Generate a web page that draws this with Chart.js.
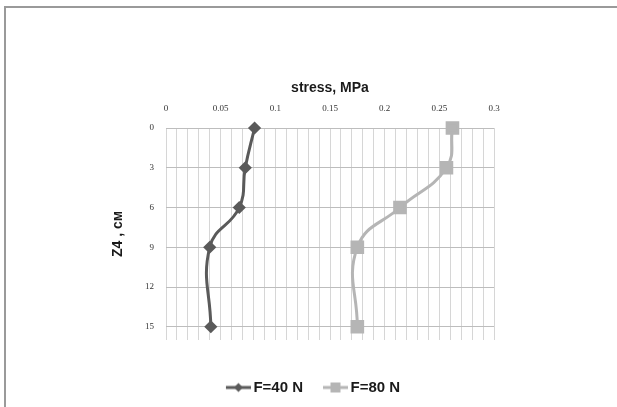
<!DOCTYPE html>
<html>
<head>
<meta charset="utf-8">
<script src="https://cdn.jsdelivr.net/npm/chart.js@4"></script>
<style>
  html, body { margin: 0; padding: 0; background: #fff; }
  #wrap { position: relative; width: 617px; height: 407px; overflow: hidden; }
  #frame { position: absolute; left: 4px; top: 6px; width: 700px; height: 500px;
           border-left: 2px solid #9a9a9a; border-top: 2px solid #9a9a9a; }
  canvas { position: absolute; left: 0; top: 0; }
</style>
</head>
<body>
<div id="wrap">
  <div id="frame"></div>
  <canvas id="stressChart" width="617" height="407"></canvas>
</div>
<script>
// глубина, см
const depth = [0, 3, 6, 9, 15];
// напряжения, МПа
const stressF40 = [0.081, 0.0725, 0.067, 0.040, 0.041];
const stressF80 = [0.262, 0.2565, 0.214, 0.175, 0.175];
const seriesNames = ["F=40 N", "F=80 N"];
const depthTicks = [0, 3, 6, 9, 12, 15];

const colF40 = "#5a5a5a";
const colF80 = "#b5b5b5";

function toPoints(xs){
  return xs.map((v, i) => ({x: v, y: depth[i]}));
}

// значок «линия + маркер» для легенды, линия прижата к тексту
function legendIcon(color, shape){
  const c = document.createElement("canvas");
  c.width = 36; c.height = 12;
  const g = c.getContext("2d");
  g.strokeStyle = color; g.lineWidth = 3;
  g.beginPath(); g.moveTo(11, 6); g.lineTo(36, 6); g.stroke();
  g.fillStyle = color;
  g.beginPath();
  if (shape === "diamond") {
    g.moveTo(23.5, 1.5); g.lineTo(28, 6); g.lineTo(23.5, 10.5); g.lineTo(19, 6);
  } else {
    g.rect(18.5, 1, 10, 10);
  }
  g.closePath(); g.fill();
  return c;
}
const icons = [legendIcon(colF40, "diamond"), legendIcon(colF80, "square")];

// фиксированная высота легенды и сдвиг её вниз/вправо
const legendPlace = {
  id: "legendPlace",
  afterInit(chart){
    const lg = chart.legend;
    const fit = lg.fit;
    lg.fit = function(){ fit.call(this); this.height = 67; };
  },
  afterLayout(chart){
    const lg = chart.legend;
    lg.top += 26; lg.bottom += 26;
    lg.left += 8; lg.right += 8;
  }
};

const ctx = document.getElementById("stressChart").getContext("2d");
new Chart(ctx, {
  type: "scatter",
  data: {
    datasets: [{
      label: seriesNames[0],
      data: toPoints(stressF40),
      showLine: true,
      clip: false,
      tension: 0.45,
      borderColor: colF40,
      backgroundColor: colF40,
      borderWidth: 3,
      pointStyle: "rectRot",
      pointRadius: 4.5,
      pointHoverRadius: 4.5
    }, {
      label: seriesNames[1],
      data: toPoints(stressF80),
      showLine: true,
      clip: false,
      tension: 0.45,
      borderColor: colF80,
      backgroundColor: colF80,
      borderWidth: 3,
      pointStyle: "rect",
      pointRadius: 7.5,
      pointHoverRadius: 7.5
    }]
  },
  plugins: [legendPlace],
  options: {
    responsive: false,
    animation: false,
    layout: { padding: { left: 110, right: 123, top: 80, bottom: 0 } },
    plugins: {
      tooltip: { enabled: false },
      legend: {
        position: "bottom",
        labels: {
          usePointStyle: true,
          pointStyleWidth: 26,
          padding: 14,
          color: "#1a1a1a",
          font: { family: "Liberation Sans", size: 15, weight: "bold" },
          generateLabels(chart){
            const items = Chart.defaults.plugins.legend.labels.generateLabels(chart);
            items.forEach((it, i) => { it.pointStyle = icons[i]; });
            return items;
          }
        }
      }
    },
    scales: {
      x: {
        type: "linear",
        position: "top",
        min: 0, max: 0.3,
        afterBuildTicks(s){
          const t = [];
          for (let i = 0; i <= 30; i++) t.push({value: i / 100});
          s.ticks = t;
        },
        afterFit(s){ s.height = 48; },
        grid: { color: "#d6d6d6", lineWidth: 1, drawTicks: false },
        border: { display: false },
        ticks: {
          autoSkip: false, maxRotation: 0, padding: 14,
          color: "#333",
          font: { family: "Liberation Serif", size: 9 },
          callback(v){
            const n = Math.round(v * 100);
            return n % 5 === 0 ? String(n / 100) : "";
          }
        },
        title: {
          display: true, text: "stress, MPa", color: "#1a1a1a",
          font: { family: "Liberation Sans", size: 14, weight: "bold" },
          padding: { top: 0, bottom: 4 }
        }
      },
      y: {
        type: "linear",
        reverse: true,
        min: 0, max: 16,
        afterBuildTicks(s){ s.ticks = depthTicks.map(v => ({value: v})); },
        afterFit(s){ s.width = 56; },
        grid: { color: "#bdbdbd", lineWidth: 1, drawTicks: false },
        border: { display: false },
        ticks: {
          padding: 12, color: "#333",
          font: { family: "Liberation Serif", size: 9 }
        },
        title: {
          display: true, text: "Z4 , см", color: "#1a1a1a",
          font: { family: "Liberation Sans", size: 14, weight: "bold" },
          padding: { top: 0, bottom: 8 }
        }
      }
    }
  }
});
</script>
</body>
</html>
